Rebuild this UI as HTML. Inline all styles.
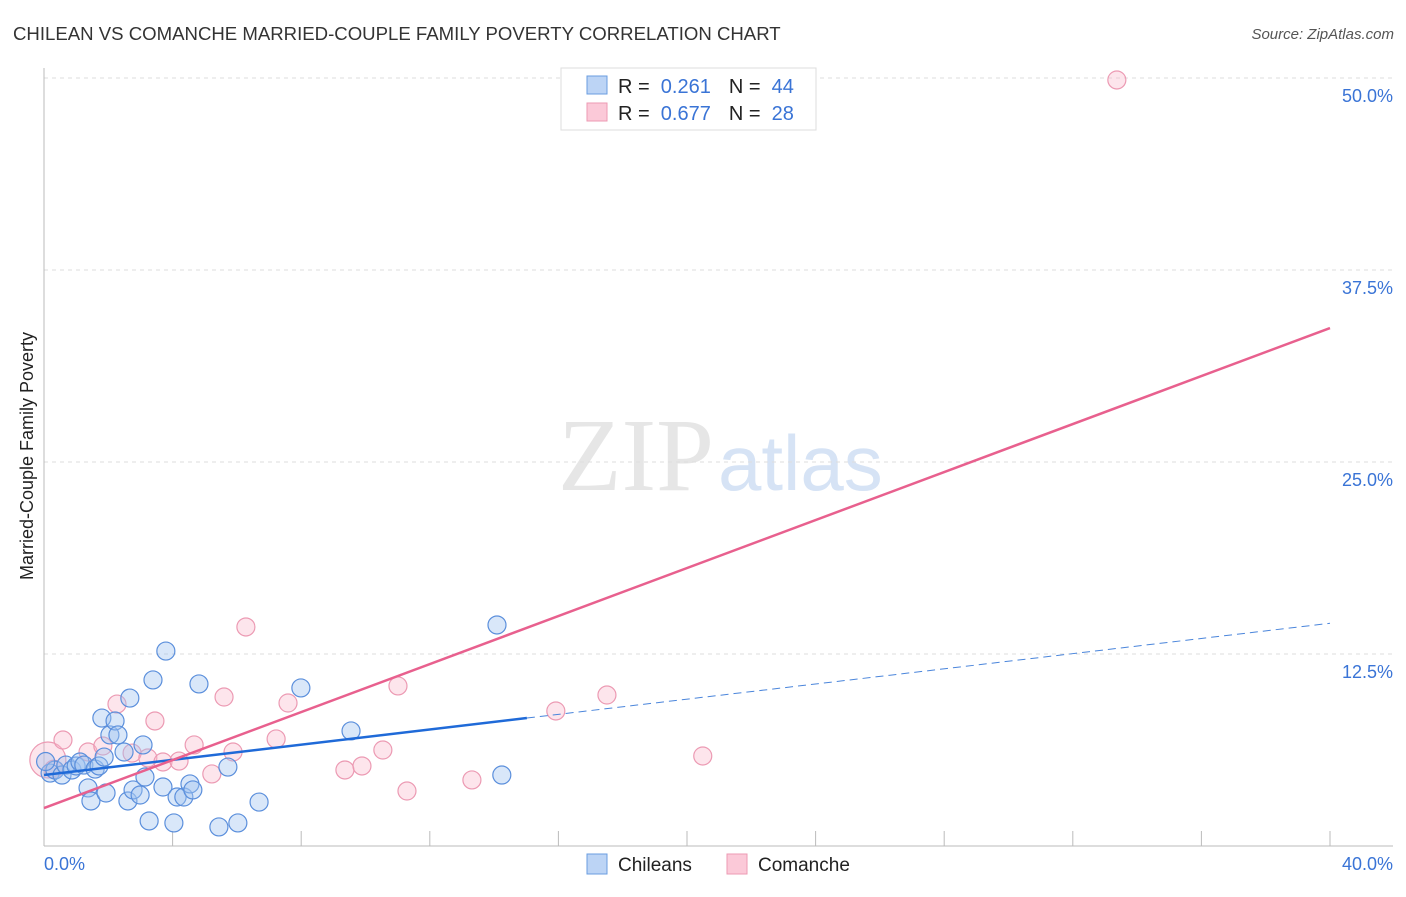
<!DOCTYPE html>
<html><head><meta charset="utf-8"><style>
body{margin:0;background:#fff;font-family:"Liberation Sans",sans-serif}
svg text{font-family:"Liberation Sans",sans-serif}
</style></head><body>
<svg id="c" width="1406" height="892" xmlns="http://www.w3.org/2000/svg">
<text x="13" y="40" font-size="18.6" fill="#333">CHILEAN VS COMANCHE MARRIED-COUPLE FAMILY POVERTY CORRELATION CHART</text>
<text x="1394" y="39" font-size="15" fill="#555" font-style="italic" text-anchor="end">Source: ZipAtlas.com</text>
<text x="33" y="456" font-size="18" fill="#222" text-anchor="middle" transform="rotate(-90 33 456)">Married-Couple Family Poverty</text>
<text x="714" y="490" font-size="104" fill="#e6e6e6" text-anchor="end" style="font-family:'Liberation Serif',serif">ZIP</text>
<text x="718" y="490" font-size="78" fill="#d6e3f5">atlas</text>
<g id="grid"></g><g id="pts"></g><g id="lines"></g>
<g>
<rect x="561" y="68" width="255" height="62" fill="#fff" stroke="#ddd"/>
<rect x="587" y="76" width="20" height="18" fill="#bcd4f5" stroke="#6a9de0"/>
<rect x="587" y="103" width="20" height="18" fill="#fbc9d8" stroke="#ec9ab3"/>
<text x="618" y="93" font-size="20" fill="#222">R = <tspan fill="#3a74d6">&#160;0.261</tspan><tspan dx="18">N = </tspan><tspan fill="#3a74d6">&#160;44</tspan></text>
<text x="618" y="120" font-size="20" fill="#222">R = <tspan fill="#3a74d6">&#160;0.677</tspan><tspan dx="18">N = </tspan><tspan fill="#3a74d6">&#160;28</tspan></text>
</g>
<g>
<rect x="587" y="854" width="20" height="20" fill="#bcd4f5" stroke="#6a9de0"/>
<text x="618" y="871" font-size="19" fill="#222">Chileans</text>
<rect x="727" y="854" width="20" height="20" fill="#fbc9d8" stroke="#ec9ab3"/>
<text x="758" y="871" font-size="19" fill="#222">Comanche</text>
</g>
<text x="44" y="870" font-size="18" fill="#3a74d6">0.0%</text>
<text x="1393" y="870" font-size="18" fill="#3a74d6" text-anchor="end">40.0%</text>
</svg>
<script>
const yTicks=[12.5,25,37.5,50];
const yTickLabels=["12.5%","25.0%","37.5%","50.0%"];
const xTicks=[0,4,8,12,16,20,24,28,32,36,40];
const chileanX=[0.19,0.34,0.56,0.68,0.87,1.0,1.12,1.24,1.37,1.46,1.59,1.71,1.8,1.87,1.93,2.05,2.21,2.3,2.49,2.61,2.67,2.77,2.99,3.08,3.14,3.27,3.39,3.7,3.79,4.04,4.14,4.35,4.54,4.63,4.82,5.44,5.72,6.03,6.69,7.99,9.55,14.09,14.24,0.05];
const chileanY=[4.75,4.95,4.62,5.27,4.95,5.21,5.47,5.27,3.78,2.93,5.01,5.21,8.33,5.79,3.45,7.23,8.14,7.23,6.12,2.93,9.63,3.65,3.32,6.58,4.49,1.63,10.81,3.84,12.69,1.5,3.19,3.19,4.04,3.65,10.55,1.24,5.14,1.5,2.86,10.29,7.49,14.39,4.62,5.5];
const comancheX=[0.12,0.59,1.37,1.83,2.27,2.74,3.23,3.45,3.7,4.2,4.67,5.22,5.6,5.88,6.28,7.22,7.59,9.36,9.89,10.54,11.01,11.29,13.31,15.92,17.51,20.49,33.37,0.3];
const comancheY=[5.6,6.9,6.12,6.51,9.24,6.05,5.73,8.14,5.47,5.53,6.58,4.69,9.7,6.12,14.26,6.97,9.31,4.95,5.21,6.25,10.42,3.58,4.3,8.79,9.83,5.86,49.87,5.0];
const blueLine=[4.62,14.5], blueSolidEnd=15.02, pinkLine=[2.47,33.72];
const X=v=>44+v/40*1286, Y=v=>846-v/12.5*192;
const NS="http://www.w3.org/2000/svg";
function mk(t,a,p){const e=document.createElementNS(NS,t);for(const k in a)e.setAttribute(k,a[k]);p.appendChild(e);return e;}
const g=document.getElementById('grid');
yTicks.forEach((t,i)=>{
 const l=mk('line',{x1:44,x2:1393,y1:Y(t),y2:Y(t),stroke:'#ddd','stroke-dasharray':'4,4'},g);
 
 
 const tx=mk('text',{x:1393,y:Y(t)+24,'font-size':18,fill:'#3a74d6','text-anchor':'end'},g);
 tx.textContent=yTickLabels[i];
 
 
});
const ax=mk('line',{x1:44,x2:1393,y1:846,y2:846,stroke:'#bbb'},g);


const ay=mk('line',{x1:44,x2:44,y1:68,y2:846,stroke:'#bbb'},g);


xTicks.forEach(t=>{const l=mk('line',{x1:X(t),x2:X(t),y1:831,y2:846,stroke:'#bbb'},g);
 
 });
const p=document.getElementById('pts');
comancheX.forEach((x,i)=>{const c=mk('circle',{cx:X(x),cy:Y(comancheY[i]),r:i==0?18:9,fill:'rgba(248,180,200,0.35)',stroke:'#ec9ab3','stroke-width':1.2},p);
 
 });
chileanX.forEach((x,i)=>{const c=mk('circle',{cx:X(x),cy:Y(chileanY[i]),r:9,fill:'rgba(160,195,240,0.4)',stroke:'#5b8fdc','stroke-width':1.2},p);
 
 });
const L=document.getElementById('lines');
const bAt=x=>blueLine[0]+(blueLine[1]-blueLine[0])*x/40;
const b1=mk('line',{x1:X(0),y1:Y(bAt(0)),x2:X(blueSolidEnd),y2:Y(bAt(blueSolidEnd)),stroke:'#1f6ad8','stroke-width':2.5},L);


const b2=mk('line',{x1:X(blueSolidEnd),y1:Y(bAt(blueSolidEnd)),x2:X(40),y2:Y(bAt(40)),stroke:'#4a85db','stroke-width':1,'stroke-dasharray':'8,5'},L);


const pl=mk('line',{x1:X(0),y1:Y(pinkLine[0]),x2:X(40),y2:Y(pinkLine[1]),stroke:'#e8608e','stroke-width':2.5},L);


</script>
</body></html>
